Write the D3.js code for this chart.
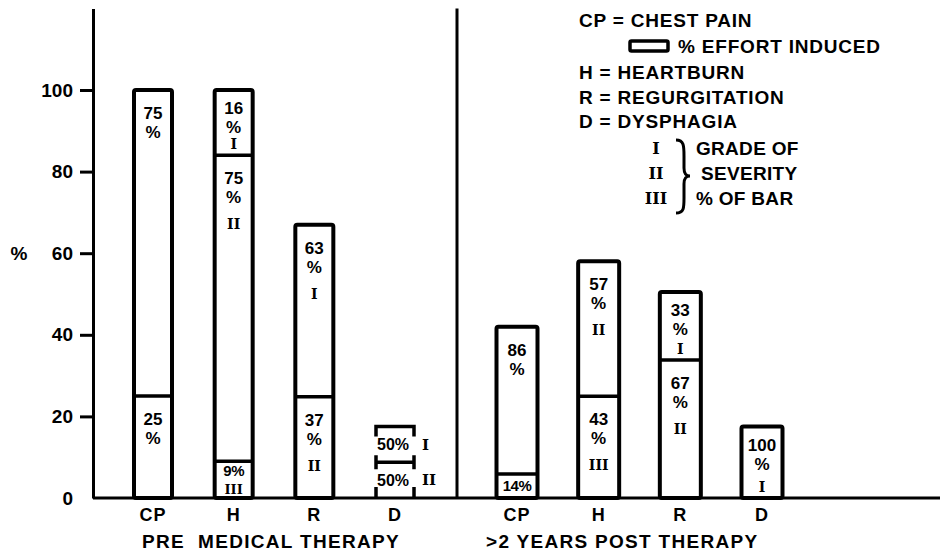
<!DOCTYPE html>
<html><head><meta charset="utf-8">
<script src="https://cdn.jsdelivr.net/npm/d3@7"></script>
<style>
html,body{margin:0;padding:0;background:#fff;}
svg{display:block;}
text{font-family:"Liberation Sans",Arial,sans-serif;font-weight:bold;fill:#000;}
.roman{font-family:"DejaVu Serif","Liberation Serif",serif;font-weight:bold;}
</style></head>
<body><svg id="chart" width="944" height="552"></svg>
<script>
// ---- data ----
const categories = ["CP", "H", "R", "D"];
const preTotals = [100, 100, 67, 17.5];          // % of patients, pre medical therapy
const postTotals = [42, 58, 50.5, 17.5];         // % of patients, >2 years post therapy
// segment shares (% of bar), listed bottom to top
const preSegments = [[25, 75], [9, 75, 16], [37, 63], [50, 50]];
const preGrades = [[null, null], ["III", "II", "I"], ["II", "I"], ["II", "I"]];
const postSegments = [[14, 86], [43, 57], [67, 33], [100]];
const postGrades = [[null, null], ["III", "II"], ["II", "I"], ["I"]];
const yTicks = [0, 20, 40, 60, 80, 100];
const yMax = 120;
const panelTitles = ["PRE  MEDICAL THERAPY", ">2 YEARS POST THERAPY"];
const legendDefs = ["CP = CHEST PAIN", "% EFFORT INDUCED", "H = HEARTBURN", "R = REGURGITATION", "D = DYSPHAGIA"];
const legendGrades = ["I", "II", "III"];
const legendGradeText = ["GRADE OF", "SEVERITY", "% OF BAR"];

// ---- layout ----
const svg = d3.select("#chart");
const baseY = 498;
const y = d3.scaleLinear().domain([0, yMax]).range([baseY, baseY - yMax * 4.08]);
const xPre = d3.scalePoint().domain(categories).range([153, 395]);
const xPost = d3.scalePoint().domain(categories).range([517, 762]);
const axisX = 93, dividerX = 457, rightEnd = 940;

// y axis
const yAxis = svg.append("g").attr("transform", `translate(${axisX},0)`)
  .call(d3.axisLeft(y).tickValues(yTicks).tickSize(13).tickSizeOuter(0).tickPadding(7).tickFormat(d3.format("d")));
yAxis.select(".domain").attr("stroke", "#000").attr("stroke-width", 3);
yAxis.selectAll(".tick line").attr("stroke", "#000").attr("stroke-width", 3)
  .filter(d => d === 0).remove();
yAxis.selectAll(".tick text").attr("font-size", 19).attr("font-family", "Liberation Sans, Arial, sans-serif")
  .attr("font-weight", "bold").attr("fill", "#000");

svg.append("text").attr("x", 19).attr("y", y(60)).attr("dy", "0.35em")
  .attr("text-anchor", "middle").attr("font-size", 19).text("%");

// divider and baseline
svg.append("line").attr("x1", dividerX).attr("x2", dividerX).attr("y1", y(yMax)).attr("y2", baseY)
  .attr("stroke", "#000").attr("stroke-width", 3);
svg.append("line").attr("x1", axisX).attr("x2", rightEnd).attr("y1", baseY).attr("y2", baseY)
  .attr("stroke", "#000").attr("stroke-width", 3);

function drawPanel(x, totals, segments, grades, barW, bracketCat) {
  const g = svg.append("g");
  categories.forEach((c, i) => {
    const cx = x(c), x0 = cx - barW / 2, x1 = cx + barW / 2;
    const total = totals[i];
    const bracket = c === bracketCat;
    let cum = 0;
    const bounds = segments[i].map(p => { const b = cum; cum += p; return [b, cum]; });
    if (bracket) {
      const top = y(total);
      const mid = y(total * bounds[0][1] / 100);
      let p = d3.path();
      p.moveTo(x0, top + 10); p.lineTo(x0, top); p.lineTo(x1, top); p.lineTo(x1, top + 10);
      p.moveTo(x0, mid - 7); p.lineTo(x0, mid + 7);
      p.moveTo(x0, mid); p.lineTo(x1, mid);
      p.moveTo(x1, mid - 7); p.lineTo(x1, mid + 7);
      p.moveTo(x0, baseY - 11); p.lineTo(x0, baseY);
      p.moveTo(x1, baseY - 11); p.lineTo(x1, baseY);
      g.append("path").attr("d", p.toString()).attr("fill", "none").attr("stroke", "#000").attr("stroke-width", 3.5);
    } else {
      g.append("rect").attr("x", x0).attr("y", y(total)).attr("width", barW).attr("height", baseY - y(total))
        .attr("fill", "#fff").attr("stroke", "#000").attr("stroke-width", 4).attr("rx", 2)
        .attr("stroke-linejoin", "round");
      bounds.slice(0, -1).forEach(b => {
        g.append("line").attr("x1", x0).attr("x2", x1)
          .attr("y1", y(total * b[1] / 100)).attr("y2", y(total * b[1] / 100))
          .attr("stroke", "#000").attr("stroke-width", 3.5);
      });
    }
    // labels
    bounds.forEach((b, j) => {
      const pct = segments[i][j];
      const grade = grades[i][j];
      const segTop = y(total * b[1] / 100), segBot = y(total * b[0] / 100);
      const h = segBot - segTop;
      if (bracket) {
        const cy = (segTop + segBot) / 2;
        g.append("text").attr("x", cx - 2).attr("y", cy).attr("dy", "0.35em").attr("text-anchor", "middle")
          .attr("font-size", 16).text(pct + "%");
        if (grade) g.append("text").attr("class", "roman").attr("x", x1 + 8).attr("y", cy).attr("dy", "0.35em")
          .attr("font-size", 15).text(grade);
      } else if (h < 45) {
        const ty = grade ? segTop + 9 : (segTop + segBot) / 2;
        g.append("text").attr("x", cx).attr("y", ty).attr("dy", "0.35em").attr("text-anchor", "middle")
          .attr("font-size", 15).attr("letter-spacing", -0.5).text(pct + "%");
        if (grade) g.append("text").attr("class", "roman").attr("x", cx).attr("y", segBot - 9).attr("dy", "0.35em")
          .attr("text-anchor", "middle").attr("font-size", 13).text(grade);
      } else {
        const big = h > 100;
        const off = big ? 23 : 18;
        g.append("text").attr("x", cx).attr("y", segTop + off).attr("dy", "0.35em").attr("text-anchor", "middle")
          .attr("font-size", 17).text(pct);
        g.append("text").attr("x", cx).attr("y", segTop + off + 19).attr("dy", "0.35em").attr("text-anchor", "middle")
          .attr("font-size", 17).text("%");
        if (grade) g.append("text").attr("class", "roman").attr("x", cx).attr("y", Math.min(segTop + off + 46, segBot - 11))
          .attr("dy", "0.35em").attr("text-anchor", "middle").attr("font-size", 14).text(grade);
      }
    });
    // category label
    g.append("text").attr("x", cx).attr("y", 515).attr("dy", "0.35em").attr("text-anchor", "middle")
      .attr("font-size", 18).attr("letter-spacing", 1).text(c);
  });
}
drawPanel(xPre, preTotals, preSegments, preGrades, 38, "D");
drawPanel(xPost, postTotals, postSegments, postGrades, 41, null);

svg.append("text").attr("x", 142).attr("y", 541).attr("dy", "0.35em").attr("font-size", 19)
  .attr("letter-spacing", 1.3).style("white-space", "pre").text(panelTitles[0]);
svg.append("text").attr("x", 486).attr("y", 541).attr("dy", "0.35em").attr("font-size", 19)
  .attr("letter-spacing", 1.3).text(panelTitles[1]);

// legend
const lg = svg.append("g");
const legRows = [20, 46, 72, 97, 121];
legendDefs.forEach((t, i) => {
  const isBox = i === 1;
  lg.append("text").attr("x", isBox ? 678 : 579).attr("y", legRows[i]).attr("dy", "0.35em")
    .attr("font-size", 19).attr("letter-spacing", 0.8).text(t);
});
lg.append("rect").attr("x", 630).attr("y", 41).attr("width", 38).attr("height", 10)
  .attr("fill", "#fff").attr("stroke", "#000").attr("stroke-width", 3.5).attr("rx", 1.5);
const gradeRows = [148, 173, 198];
legendGrades.forEach((t, i) => {
  lg.append("text").attr("class", "roman").attr("x", 656).attr("y", gradeRows[i]).attr("dy", "0.35em")
    .attr("text-anchor", "middle").attr("font-size", 16).text(t);
  lg.append("text").attr("x", i === 1 ? 701 : 696).attr("y", gradeRows[i]).attr("dy", "0.35em")
    .attr("font-size", 19).attr("letter-spacing", 0.3).text(legendGradeText[i]);
});
const bp = d3.path();
bp.moveTo(676, 140); bp.bezierCurveTo(684, 140, 684, 146, 684, 156);
bp.lineTo(684, 168); bp.bezierCurveTo(684, 174, 686, 176, 690, 176);
bp.bezierCurveTo(686, 176, 684, 178, 684, 184);
bp.lineTo(684, 198); bp.bezierCurveTo(684, 208, 684, 213, 676, 213);
lg.append("path").attr("d", bp.toString()).attr("fill", "none").attr("stroke", "#000").attr("stroke-width", 3);
</script></body></html>
